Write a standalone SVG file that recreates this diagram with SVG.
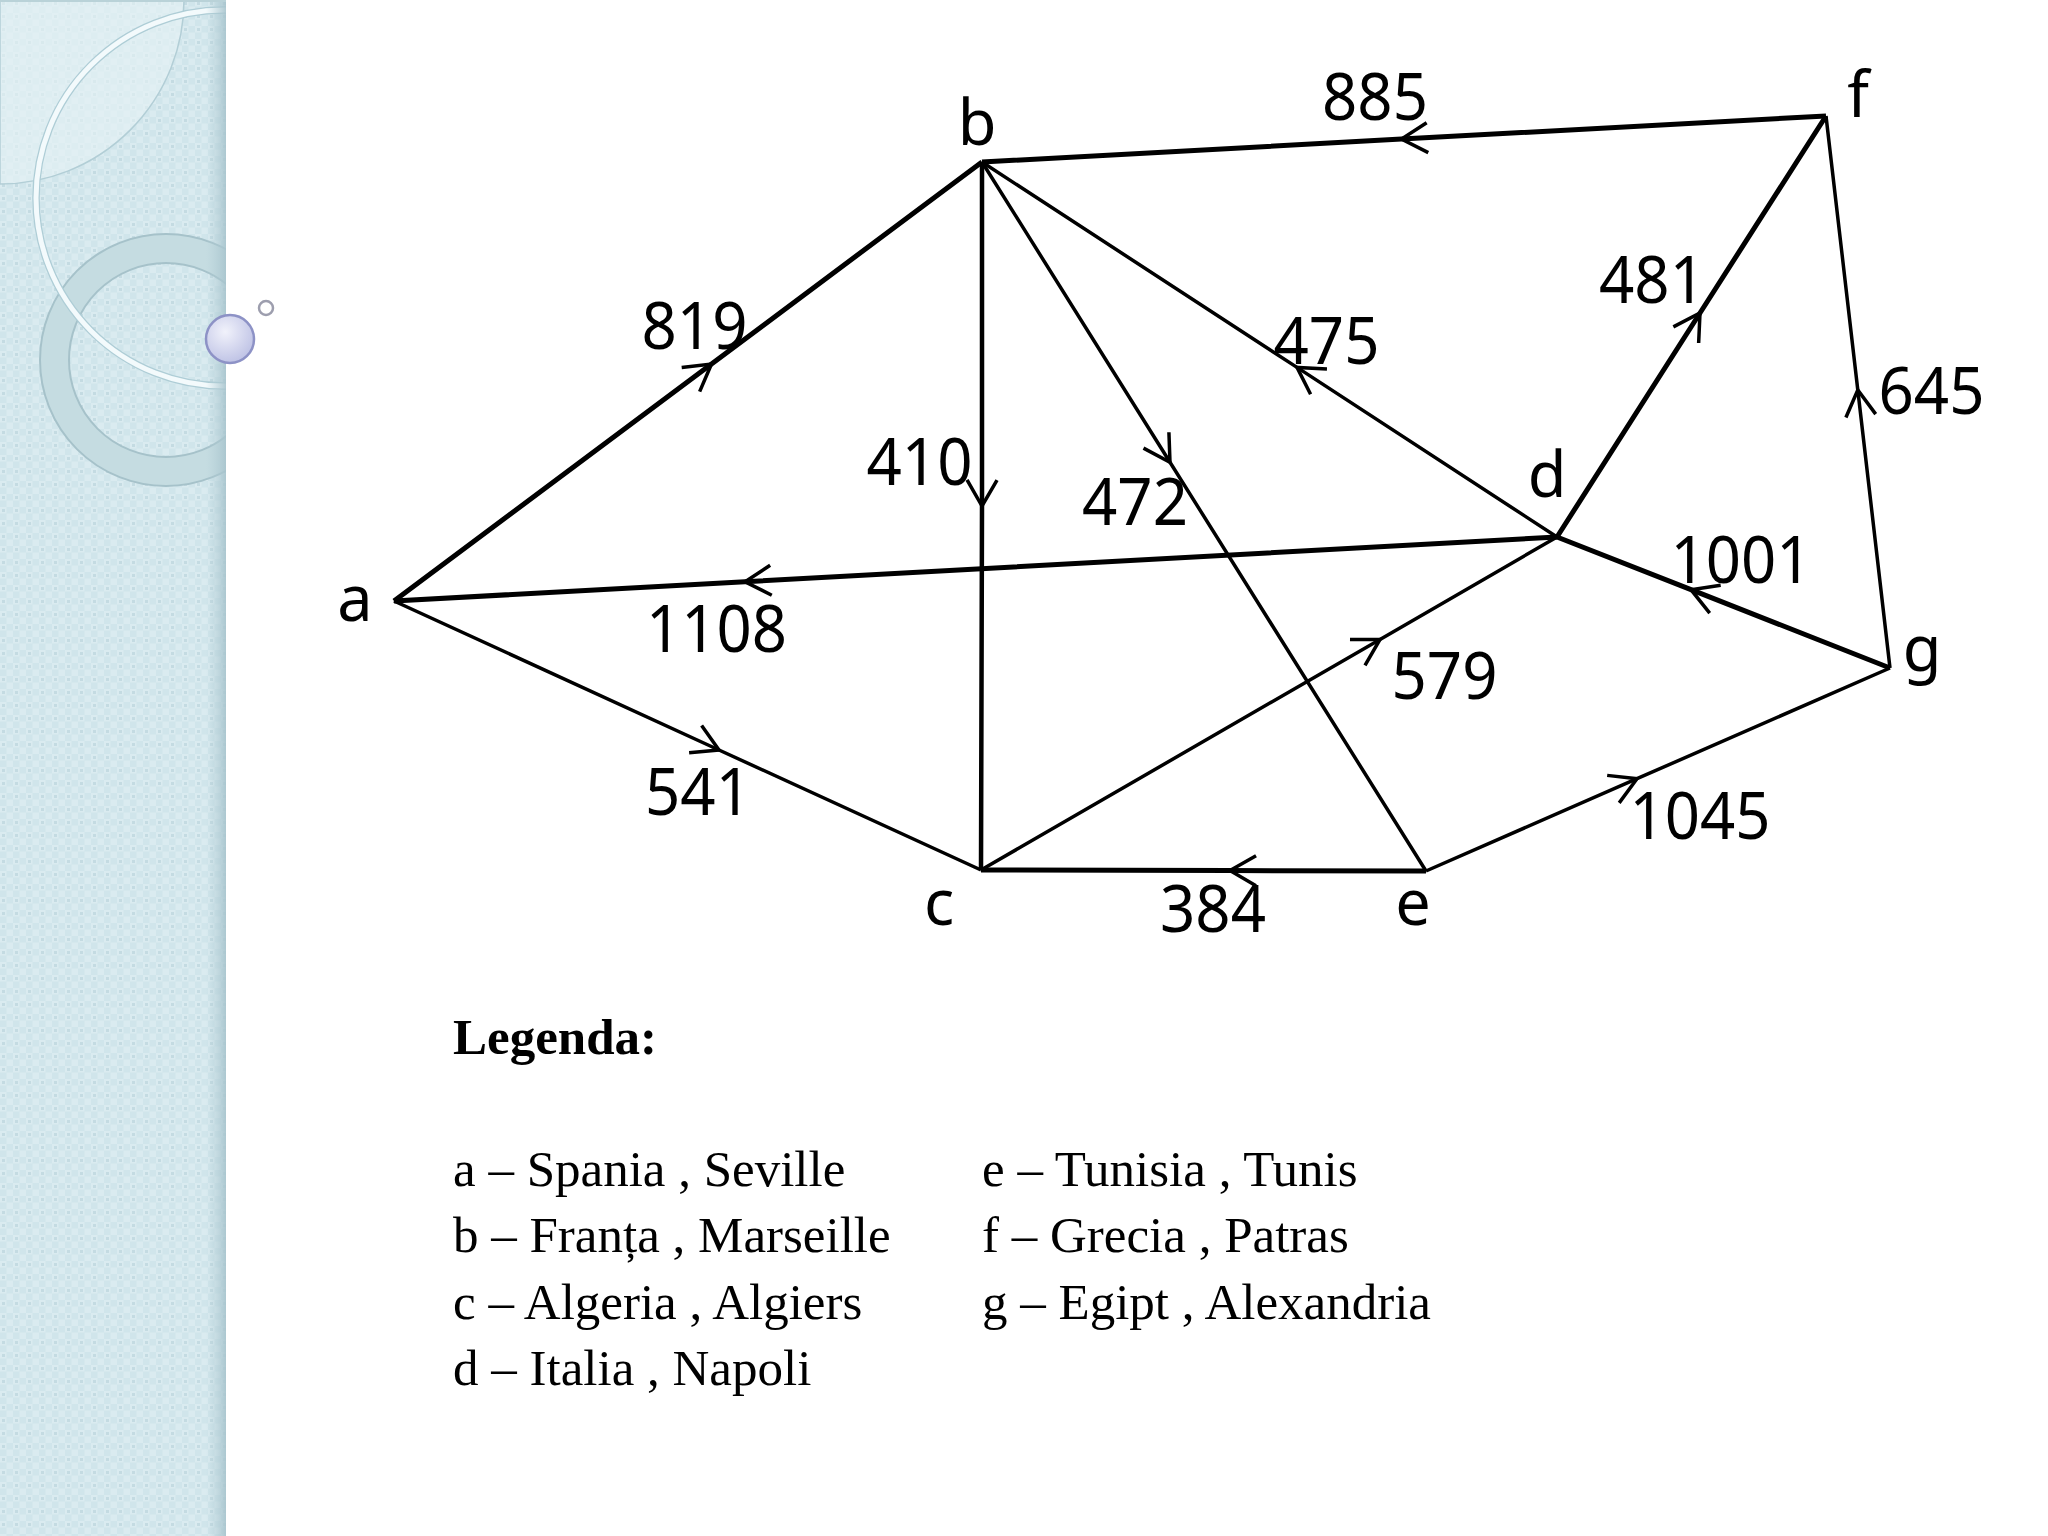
<svg xmlns="http://www.w3.org/2000/svg" width="2048" height="1536" viewBox="0 0 2048 1536">
<style>
.edge{fill:none;stroke:#000;stroke-linecap:butt;stroke-linejoin:miter}
.thick{stroke-width:5}
.mid{stroke-width:4.5}
.thin{stroke-width:3.5}
.lbl{font-family:"Noto Sans","Open Sans","Liberation Sans",sans-serif;font-size:63px;fill:#000;text-anchor:middle}
.num{font-family:"Noto Sans","Open Sans","Liberation Sans",sans-serif;font-size:66px;fill:#000;text-anchor:middle}
.leg{font-family:"Liberation Serif","Times New Roman",serif;font-size:51px;fill:#000}
.legb{font-family:"Liberation Serif","Times New Roman",serif;font-size:51px;font-weight:bold;fill:#000}
</style>
<defs>
<marker id="arr" markerUnits="userSpaceOnUse" viewBox="-30 -20 34 40" markerWidth="34" markerHeight="40" refX="0" refY="0" orient="auto" overflow="visible">
<path d="M-26,-15 L0,0 L-26,15" fill="none" stroke="#000" stroke-width="3.5"/>
</marker>
<pattern id="chk" width="13" height="13" patternUnits="userSpaceOnUse">
<rect width="13" height="13" fill="#d0e5eb"/>
<rect x="0" y="0" width="6.5" height="6.5" fill="#daebf0"/>
<rect x="6.5" y="6.5" width="6.5" height="6.5" fill="#daebf0"/>
<rect x="2" y="2" width="3" height="3" fill="#c4dbe2"/>
</pattern>
<linearGradient id="edgeShade" x1="0" y1="0" x2="1" y2="0">
<stop offset="0" stop-color="#b4cfd7" stop-opacity="0"/>
<stop offset="1" stop-color="#a8c4cd" stop-opacity="0.9"/>
</linearGradient>
<radialGradient id="ball" cx="0.4" cy="0.35" r="0.7">
<stop offset="0" stop-color="#f1f2fb"/>
<stop offset="1" stop-color="#bcc0e4"/>
</radialGradient>
<clipPath id="panelClip"><rect x="0" y="0" width="226" height="1536"/></clipPath>
</defs>
<rect width="2048" height="1536" fill="#fff"/>
<g id="panel">
<rect x="0" y="0" width="226" height="1536" fill="url(#chk)"/>
<g clip-path="url(#panelClip)">
<path d="M0,0 L184,0 A184,184 0 0 1 0,184 Z" fill="#e6f2f5" fill-opacity="0.6" stroke="#b2ced6" stroke-width="1.5"/>
<circle cx="166" cy="360" r="111.5" fill="none" stroke="#a6c2ca" stroke-width="31"/>
<circle cx="166" cy="360" r="111.5" fill="none" stroke="#c5dce1" stroke-width="27"/>
<circle cx="224" cy="198" r="188" fill="none" stroke="#aecdd6" stroke-width="7.5"/>
<circle cx="224" cy="198" r="188" fill="none" stroke="#f3fafc" stroke-width="5"/>
</g>
<rect x="206" y="0" width="20" height="1536" fill="url(#edgeShade)"/>
<rect x="0" y="0" width="226" height="2" fill="#b9d2d8"/>
<circle cx="266" cy="308" r="7" fill="none" stroke="#9d9eae" stroke-width="2.5"/>
<circle cx="230" cy="339" r="24" fill="url(#ball)" stroke="#8d92c6" stroke-width="2.5"/>
</g>
<g id="connectors">
<path id="e-ab" class="edge thick" d="M394,601 L711.5,364 L982,162" marker-mid="url(#arr)"/>
<path id="e-bc" class="edge mid" d="M982,162 L982,506 L981,870" marker-mid="url(#arr)"/>
<path id="e-ac" class="edge thin" d="M394,601 L719,750 L981,870" marker-mid="url(#arr)"/>
<path id="e-da" class="edge thick" d="M1557,537 L745,581.7 L394,601" marker-mid="url(#arr)"/>
<path id="e-fb" class="edge thick" d="M1826,116 L1401.5,139.1 L982,162" marker-mid="url(#arr)"/>
<path id="e-be" class="edge thin" d="M982,162 L1170,462.2 L1426,871" marker-mid="url(#arr)"/>
<path id="e-db" class="edge thin" d="M1557,537 L1297,367.4 L982,162" marker-mid="url(#arr)"/>
<path id="e-df" class="edge thick" d="M1557,537 L1700,313 L1826,116" marker-mid="url(#arr)"/>
<path id="e-gf" class="edge thin" d="M1890,668 L1857.8,390 L1826,116" marker-mid="url(#arr)"/>
<path id="e-gd" class="edge thick" d="M1890,668 L1691,589.7 L1557,537" marker-mid="url(#arr)"/>
<path id="e-cd" class="edge thin" d="M981,870 L1380,639.4 L1557,537" marker-mid="url(#arr)"/>
<path id="e-eg" class="edge thin" d="M1426,871 L1637,778.7 L1890,668" marker-mid="url(#arr)"/>
<path id="e-ec" class="edge thick" d="M1426,871 L1230,870.6 L981,870" marker-mid="url(#arr)"/>
</g>
<g id="edge-labels">
<text class="num" x="694.5" y="349" textLength="106" lengthAdjust="spacingAndGlyphs">819</text>
<text class="num" x="919.5" y="485" textLength="106" lengthAdjust="spacingAndGlyphs">410</text>
<text class="num" x="698" y="815" textLength="106" lengthAdjust="spacingAndGlyphs">541</text>
<text class="num" x="716.5" y="652" textLength="141" lengthAdjust="spacingAndGlyphs">1108</text>
<text class="num" x="1375" y="120" textLength="106" lengthAdjust="spacingAndGlyphs">885</text>
<text class="num" x="1135" y="525" textLength="106" lengthAdjust="spacingAndGlyphs">472</text>
<text class="num" x="1326.5" y="364" textLength="106" lengthAdjust="spacingAndGlyphs">475</text>
<text class="num" x="1652" y="303" textLength="106" lengthAdjust="spacingAndGlyphs">481</text>
<text class="num" x="1931.5" y="414" textLength="106" lengthAdjust="spacingAndGlyphs">645</text>
<text class="num" x="1741" y="583" textLength="141" lengthAdjust="spacingAndGlyphs">1001</text>
<text class="num" x="1444.5" y="699" textLength="106" lengthAdjust="spacingAndGlyphs">579</text>
<text class="num" x="1700" y="839" textLength="141" lengthAdjust="spacingAndGlyphs">1045</text>
<text class="num" x="1213" y="932" textLength="106" lengthAdjust="spacingAndGlyphs">384</text>
</g>
<g id="node-a"><text class="lbl" x="355" y="621">a</text></g>
<g id="node-b"><text class="lbl" x="977" y="145">b</text></g>
<g id="node-c"><text class="lbl" x="939" y="925">c</text></g>
<g id="node-d"><text class="lbl" x="1547" y="497">d</text></g>
<g id="node-e"><text class="lbl" x="1413" y="925">e</text></g>
<g id="node-f"><text class="lbl" x="1858" y="117">f</text></g>
<g id="node-g"><text class="lbl" x="1922" y="671">g</text></g>
<g id="legend">
<text class="legb" x="453" y="1054">Legenda:</text>
<text class="leg" x="453" y="1186">a – Spania , Seville</text>
<text class="leg" x="453" y="1251.5">b – Franța , Marseille</text>
<text class="leg" x="453" y="1318.5">c – Algeria , Algiers</text>
<text class="leg" x="453" y="1384.5">d – Italia , Napoli</text>
<text class="leg" x="982" y="1186">e – Tunisia , Tunis</text>
<text class="leg" x="982" y="1251.5">f – Grecia , Patras</text>
<text class="leg" x="982" y="1318.5">g – Egipt , Alexandria</text>
</g>
</svg>
